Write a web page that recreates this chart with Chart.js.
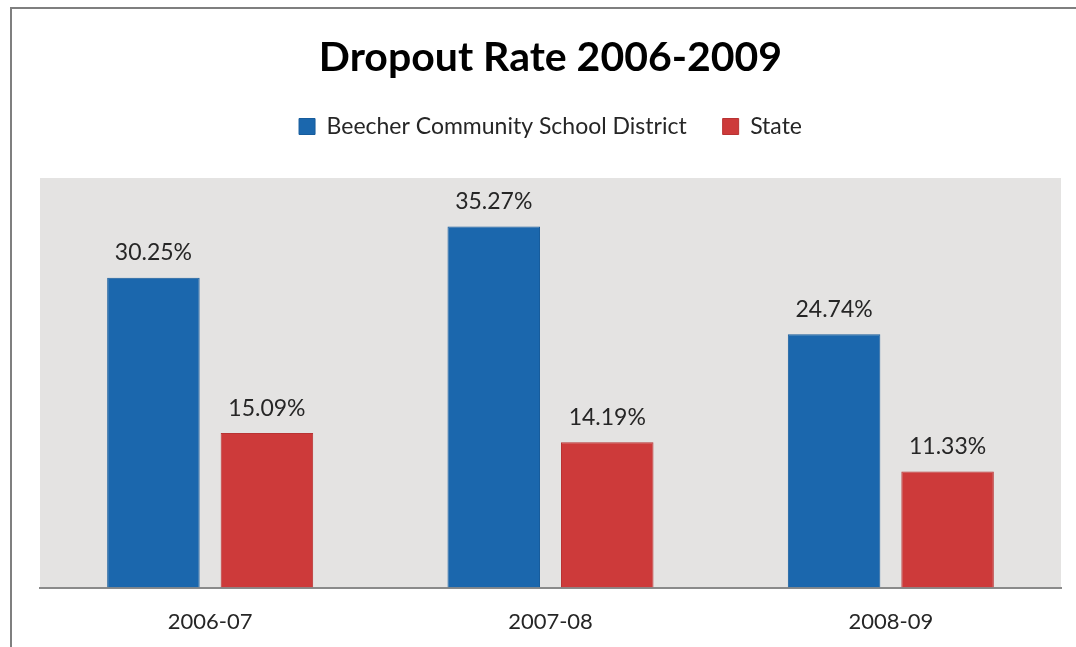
<!DOCTYPE html>
<html>
<head>
<meta charset="utf-8">
<script src="https://cdn.jsdelivr.net/npm/chart.js@4/dist/chart.umd.min.js"></script>
<style>
  html, body { margin: 0; padding: 0; background: #fff; }
  #wrap { position: relative; width: 1076px; height: 647px; overflow: hidden; }
  #frame {
    position: absolute; left: 10px; top: 7px; width: 1100px; height: 700px;
    border-left: 2px solid #7f7f7f; border-top: 2px solid #7f7f7f;
    pointer-events: none;
  }
  canvas { position: absolute; left: 0; top: 0; }
</style>
</head>
<body>
<div id="wrap">
  <canvas id="dropoutChart" width="1076" height="647"></canvas>
  <div id="frame"></div>
</div>
<script>
// Anos letivos e taxas de evasão (%)
const YEARS = ['2006-07', '2007-08', '2008-09'];
const DISTRICT_RATES = [30.25, 35.27, 24.74];
const STATE_RATES = [15.09, 14.19, 11.33];
const SERIES_NAMES = ['Beecher Community School District', 'State'];

const FONT = 'Lato, "Open Sans", sans-serif';
const TEXT_COLOR = '#262626';

// Fundo cinza da área do gráfico
const plotBackground = {
    id: 'plotBackground',
    beforeDraw(chart) {
        const { ctx, chartArea: a } = chart;
        ctx.save();
        ctx.fillStyle = '#e4e3e2';
        ctx.fillRect(a.left, a.top, a.right - a.left, a.bottom - a.top);
        ctx.restore();
    }
};

// Rótulos com o valor acima de cada barra
const valueLabels = {
    id: 'valueLabels',
    afterDatasetsDraw(chart) {
        const { ctx } = chart;
        ctx.save();
        ctx.font = '23px ' + FONT;
        ctx.fillStyle = TEXT_COLOR;
        ctx.textAlign = 'center';
        ctx.textBaseline = 'middle';
        chart.data.datasets.forEach((ds, i) => {
            chart.getDatasetMeta(i).data.forEach((bar, j) => {
                ctx.fillText(ds.data[j].toFixed(2) + '%', bar.x, bar.y - 25);
            });
        });
        ctx.restore();
    }
};

// Espaço extra entre a legenda e a área do gráfico
const legendSpacing = {
    id: 'legendSpacing',
    beforeInit(chart) {
        const fit = chart.legend.fit;
        chart.legend.fit = function () {
            fit.bind(chart.legend)();
            this.height += 30;
        };
    }
};

const ctx = document.getElementById('dropoutChart').getContext('2d');
const dropoutChart = new Chart(ctx, {
    type: 'bar',
    data: {
        labels: YEARS,
        datasets: [{
            label: SERIES_NAMES[0],
            data: DISTRICT_RATES,
            backgroundColor: '#1b67ad',
            borderColor: '#175c9c',
            borderWidth: 1
        }, {
            label: SERIES_NAMES[1],
            data: STATE_RATES,
            backgroundColor: '#cd3a3a',
            borderColor: '#b83333',
            borderWidth: 1
        }]
    },
    options: {
        responsive: false,
        animation: false,
        layout: { padding: { left: 40, right: 15, top: 0, bottom: -9 } },
        datasets: {
            bar: { categoryPercentage: 0.667, barPercentage: 0.815 }
        },
        plugins: {
            title: {
                display: true,
                text: 'Dropout Rate 2006-2009',
                color: '#000',
                font: { family: FONT, size: 41, weight: 'bold', lineHeight: 1 },
                padding: { top: 37, bottom: 1 }
            },
            legend: {
                display: true,
                position: 'top',
                labels: {
                    color: TEXT_COLOR,
                    font: { family: FONT, size: 23 },
                    boxWidth: 16,
                    boxHeight: 16,
                    padding: 36
                }
            },
            tooltip: { enabled: false }
        },
        scales: {
            x: {
                grid: { display: false, drawTicks: false },
                border: { display: true, color: '#8a8a8a', width: 2 },
                ticks: { color: TEXT_COLOR, font: { family: FONT, size: 22 }, padding: 21 }
            },
            y: {
                display: false,
                min: 0,
                max: 40
            }
        }
    },
    plugins: [plotBackground, valueLabels, legendSpacing]
});
</script>
</body>
</html>
